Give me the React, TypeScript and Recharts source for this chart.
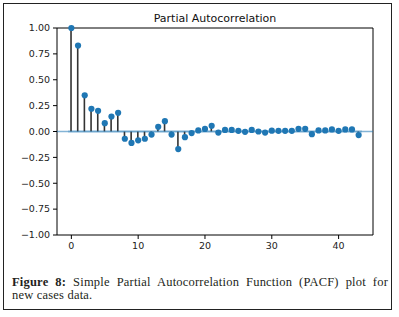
import React from "react";
import {
  Bar,
  ComposedChart,
  ReferenceArea,
  ReferenceLine,
  Scatter,
  XAxis,
  YAxis,
} from "recharts";

// lag index and partial autocorrelation
const lags = [
  0, 1, 2, 3, 4, 5, 6, 7, 8, 9, 10, 11, 12, 13, 14, 15, 16, 17, 18, 19, 20, 21,
  22, 23, 24, 25, 26, 27, 28, 29, 30, 31, 32, 33, 34, 35, 36, 37, 38, 39, 40, 41,
  42, 43,
];
const pacf = [
  1.0, 0.83, 0.35, 0.22, 0.2, 0.08, 0.145, 0.18, -0.07, -0.11, -0.085, -0.07,
  -0.03, 0.045, 0.1, -0.03, -0.17, -0.055, -0.015, 0.01, 0.025, 0.055, -0.01,
  0.015, 0.015, 0.007, -0.003, 0.015, 0.0, -0.01, 0.008, 0.007, 0.007, 0.007,
  0.026, 0.026, -0.026, 0.01, 0.01, 0.02, 0.007, 0.02, 0.02, -0.035,
];
const confBand = 0.012;
const xTicks = [0, 10, 20, 30, 40];
const yTicks = [-1, -0.75, -0.5, -0.25, 0, 0.25, 0.5, 0.75, 1];

const xDomain: [number, number] = [-2.15, 45.15];

const data = lags.map((lag, i) => ({ lag, value: pacf[i] }));

const BLUE = "#1f77b4";
const tickFont = { fontSize: 9.5, fill: "#222", fontFamily: "DejaVu Sans" };

function fmtY(v: number) {
  const s = Math.abs(v).toFixed(2);
  return v < 0 ? `\u2212${s}` : s;
}

function Stem(props: any) {
  const { x, y, width, height } = props;
  if (x == null || y == null) return null;
  const top = Math.min(y, y + height);
  const h = Math.abs(height);
  return <rect x={x + width / 2 - 0.8} y={top} width={1.6} height={h} fill="#333" />;
}

function Dot(props: any) {
  const { cx, cy } = props;
  if (cx == null || cy == null) return null;
  return <circle cx={cx} cy={cy} r={3.1} fill={BLUE} />;
}

export default function App() {
  return (
    <div
      style={{
        position: "absolute",
        left: 0,
        top: 0,
        width: 399,
        height: 317,
        background: "#fff",
      }}
    >
      <div
        style={{
          position: "absolute",
          left: 3,
          top: 3,
          width: 389,
          height: 307,
          border: "1.4px solid #222",
          boxSizing: "border-box",
        }}
      />
      <div
        style={{
          position: "absolute",
          left: 57,
          top: 12,
          width: 316,
          textAlign: "center",
          fontFamily: "DejaVu Sans",
          fontSize: 11,
          lineHeight: "13px",
          color: "#111",
        }}
      >
        Partial Autocorrelation
      </div>
      <div style={{ position: "absolute", left: 0, top: 0 }}>
        <ComposedChart
          width={399}
          height={260}
          data={data}
          margin={{ top: 28, right: 26, bottom: 5, left: 7 }}
        >
          <XAxis
            dataKey="lag"
            type="number"
            domain={xDomain}
            ticks={xTicks}
            allowDataOverflow
            tick={tickFont}
            tickSize={4}
            tickMargin={3}
            axisLine={false}
            tickLine={{ stroke: "#000" }}
            height={20}
          />
          <YAxis
            type="number"
            domain={[-1, 1]}
            ticks={yTicks}
            tickFormatter={fmtY}
            tick={tickFont}
            tickSize={4}
            tickMargin={3}
            axisLine={false}
            tickLine={{ stroke: "#000" }}
            width={50}
          />
          <Bar
            dataKey="value"
            barSize={2}
            shape={<Stem />}
            isAnimationActive={false}
          />
          <ReferenceLine y={0} stroke={BLUE} strokeOpacity={0.55} strokeWidth={1.6} />
          <Scatter dataKey="value" shape={<Dot />} isAnimationActive={false} />
          <ReferenceArea
            x1={-0.5}
            x2={43.5}
            y1={-confBand}
            y2={confBand}
            fill={BLUE}
            fillOpacity={0.25}
            stroke="none"
          />
          <ReferenceArea
            x1={xDomain[0]}
            x2={xDomain[1]}
            y1={-1}
            y2={1}
            fill="none"
            stroke="#000"
            strokeWidth={1}
          />
        </ComposedChart>
      </div>
      <div
        style={{
          position: "absolute",
          left: 12,
          top: 276,
          width: 376,
          fontFamily: "Liberation Serif",
          fontSize: 12.5,
          letterSpacing: 0.2,
          lineHeight: "13px",
          color: "#231f20",
          textAlign: "justify",
        }}
      >
        <div style={{ textAlign: "justify", textAlignLast: "justify" }}>
          <b>Figure 8:</b> Simple Partial Autocorrelation Function (PACF) plot for
        </div>
        <div>new cases data.</div>
      </div>
    </div>
  );
}
